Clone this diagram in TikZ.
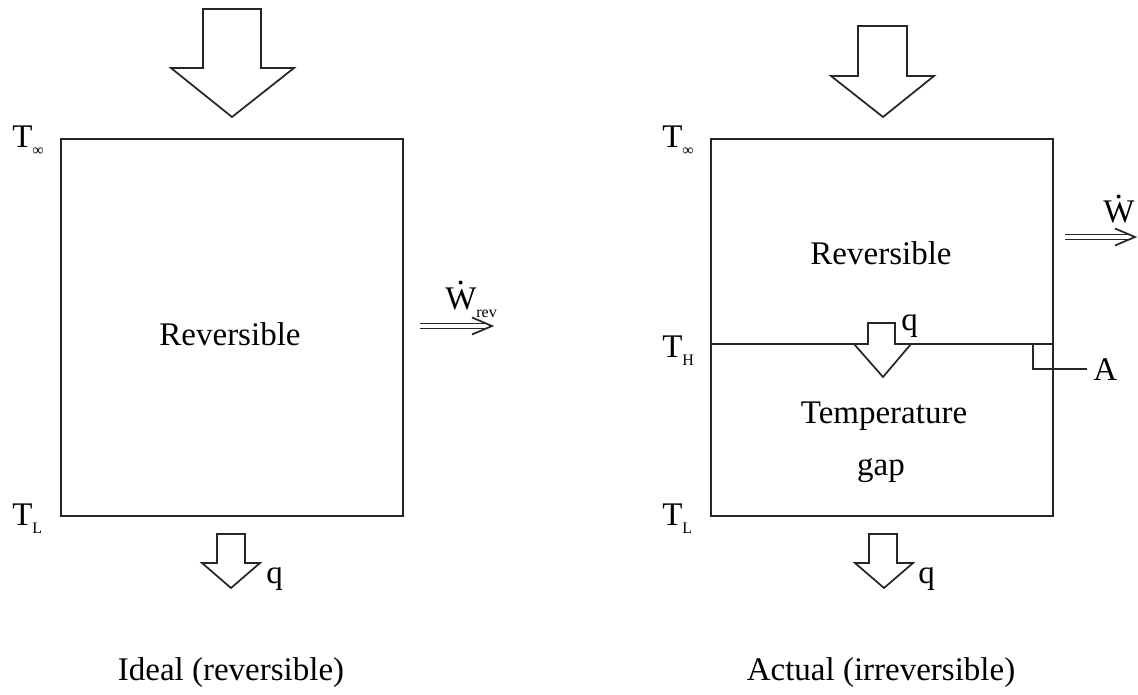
\documentclass[tikz,border=0pt]{standalone}
\usepackage{fontspec}
\setmainfont{Liberation Serif}
\usetikzlibrary{calc}
\newcommand{\mainsz}{\fontsize{24.75pt}{29pt}\selectfont}
\newcommand{\subsz}{\fontsize{12pt}{14pt}\selectfont}
\newcommand{\Wdot}{{\setbox0\hbox{W}\rlap{\hbox to\wd0{\hss\raisebox{0.74em}{.}\hss}}W}}
\newcommand{\sbs}[1]{\raisebox{-6pt}{\subsz #1}}
\tikzset{
  x=0.75pt, y=-0.75pt,
  thin line/.style={line width=1.3pt, line join=miter, draw=black!85},
  blockarrow/.style={thin line, fill=white},
  lbl/.style={inner sep=0pt, anchor=base, font=\mainsz},
  lblw/.style={inner sep=0pt, anchor=base west, font=\mainsz},
  dblline/.style={line width=1.2pt, draw=black!85, double, double distance=2.4pt},
}
\begin{document}
\begin{tikzpicture}
\useasboundingbox (0,0) rectangle (1138,695);
\fill[white] (0,0) rectangle (1138,695);

% ---------- Left: ideal ----------
\draw[thin line] (61,139) rectangle (403,516);
\draw[blockarrow] (203,9) -- (261,9) -- (261,68) -- (294,68) -- (232,117) -- (171,68) -- (203,68) -- cycle;
\draw[blockarrow] (217,534) -- (245,534) -- (245,563) -- (260,563) -- (231,588) -- (202,563) -- (217,563) -- cycle;

\node[lblw] (tinfL) at (12,148) {T\sbs{∞}};
\node[lblw] (tlL) at (12,525) {T\sbs{L}};
\node[lbl] (revL) at (230,345) {Reversible};
\node[lblw] (qL) at (266,583) {q};
\node[lbl] (capL) at (231,680) {Ideal (reversible)};
\node[lblw] (wrev) at (445,309) {\Wdot\sbs{rev}};

\coordinate (wl1) at (420,326);
\coordinate (wl2) at (492,326);
\draw[dblline] (wl1) -- ($(wl2)+(-4,0)$);
\draw[thin line] ($(wl2)+(-20,-8.5)$) -- (wl2) -- ($(wl2)+(-20,8.5)$);

% ---------- Right: actual ----------
\draw[thin line] (711,139) rectangle (1053,516);
\coordinate (dv1) at (711,344);
\coordinate (dv2) at (1053,344);
\draw[thin line] (dv1) -- (dv2);
\draw[blockarrow] (858,26) -- (907,26) -- (907,76) -- (934,76) -- (883,117) -- (831,76) -- (858,76) -- cycle;
\draw[blockarrow] (868,323) -- (895,323) -- (895,344) -- (911,344) -- (883,377) -- (854,344) -- (868,344) -- cycle;
\draw[blockarrow] (869,534) -- (897,534) -- (897,563) -- (913,563) -- (884,588) -- (855,563) -- (869,563) -- cycle;
\draw[thin line] (1033,344) -- (1033,369) -- (1087,369);

\node[lblw] (tinfR) at (662,148) {T\sbs{∞}};
\node[lblw] (thR) at (662,357) {T\sbs{H}};
\node[lblw] (tlR) at (662,525) {T\sbs{L}};
\node[lbl] (revR) at (881,264) {Reversible};
\node[lbl] (temp) at (884,423) {Temperature};
\node[lbl] (gap) at (881,475) {gap};
\node[lblw] (qM) at (901,330) {q};
\node[lblw] (qR) at (918,583) {q};
\node[lblw] (aLbl) at (1093,380) {A};
\node[lbl] (capR) at (881,680) {Actual (irreversible)};
\node[lblw] (wdot) at (1103,223) {\Wdot};

\coordinate (wr1) at (1065,237);
\coordinate (wr2) at (1135,237);
\draw[dblline] (wr1) -- ($(wr2)+(-4,0)$);
\draw[thin line] ($(wr2)+(-20,-8.5)$) -- (wr2) -- ($(wr2)+(-20,8.5)$);
\end{tikzpicture}
\end{document}
